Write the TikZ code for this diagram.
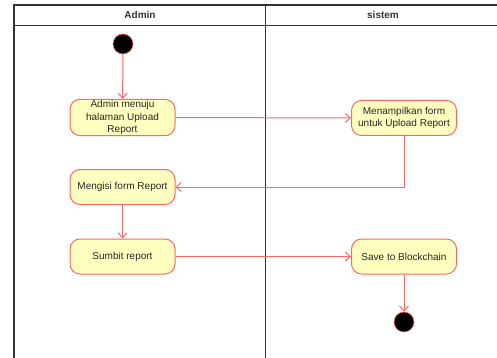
\documentclass[tikz,border=0pt]{standalone}
\usepackage{fontspec}
\setmainfont{Liberation Sans}
\usepackage{xcolor}
\usetikzlibrary{positioning,arrows.meta,calc}

\definecolor{actred}{HTML}{FF6666}
\definecolor{actfill}{HTML}{FFFFC0}
\definecolor{lanegray}{HTML}{333333}

\begin{document}
\begin{tikzpicture}[
		x=1pt, y=-1pt,
		font=\fontsize{10}{12.5}\selectfont,
		lane/.style={draw=lanegray, line width=0.9pt},
		act/.style={draw=actred, fill=actfill, rounded corners=10pt, line width=1pt,
			align=center, minimum width=105pt, minimum height=35pt, inner sep=1pt,
			text=black!85},
		ini/.style={circle, fill=black, draw=actred, line width=0.6pt,
			minimum size=20pt, inner sep=0pt},
		arr/.style={-{Straight Barb[length=5pt, width=9pt]}, draw=actred, line width=1pt}
		]
		\useasboundingbox (0,0) rectangle (497,358);
		% swimlanes
		\draw[lane, line width=1.2pt] (14,365) -- (14,5) -- (505,5);
		\draw[lane] (14,25) -- (505,25);
		\draw[lane] (265,5) -- (265,365);
		\node[font=\fontsize{10}{12}\selectfont\bfseries, text=black!80] (hadmin) at (140,15) {Admin};
		\node[font=\fontsize{10}{12}\selectfont\bfseries, text=black!80] (hsistem) at (383,15) {sistem};
		% activities
		\node[ini] (start) at (123,44) {};
		\node[act] (menuju) at (122.5,117.5) {Admin menuju\\halaman Upload\\Report};
		\node[act] (tampil) at (404,118) {Menampilkan form\\untuk Upload Report};
		\node[act] (isi) at (122.5,187) {Mengisi form Report};
		\node[act] (submit) at (122.5,256.5) {Sumbit report};
		\node[act] (save) at (404,256.5) {Save to Blockchain};
		\node[ini] (stop) at (404,322) {};
		% flows
		\draw[arr] (start) -- (menuju);
		\draw[arr] (menuju) -- (tampil);
		\draw[arr] (tampil.south) |- (isi.east);
		\draw[arr] (isi) -- (submit);
		\draw[arr] (submit) -- (save);
		\draw[arr] (save) -- (stop);
	\end{tikzpicture}
\end{document}
